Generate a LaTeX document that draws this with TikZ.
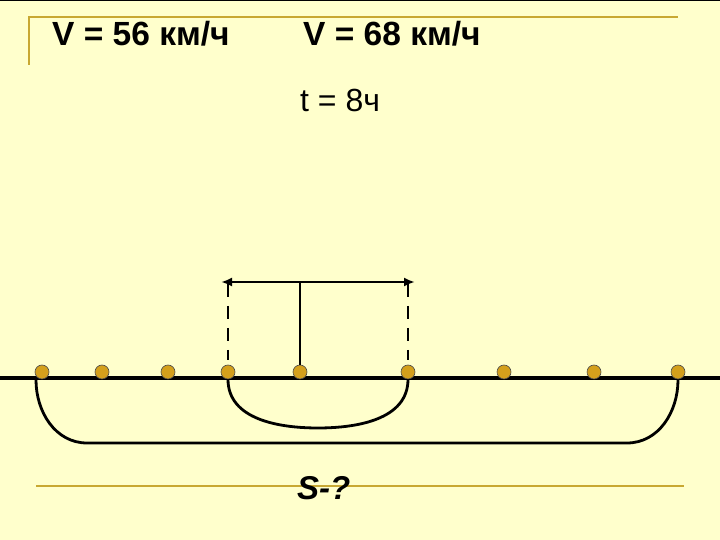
\documentclass[tikz,border=0pt]{standalone}
\usepackage{fontspec}
\setmainfont{Liberation Sans}
\usepackage{tikz}
\usetikzlibrary{shapes,arrows,arrows.meta}
\definecolor{paper}{RGB}{255,255,204}
\definecolor{gold}{RGB}{200,168,50}
\definecolor{dotfill}{RGB}{212,160,28}

\begin{document}
\begin{tikzpicture}[x=1pt,y=1pt,
                every path/.style={>={Latex[length=11pt,width=9pt]}},
                dot/.style={draw=black!70,line width=0.6pt,fill=dotfill,circle,minimum size=14pt,inner sep=0pt},
                lab/.style={font=\fontsize{32}{38}\selectfont,anchor=base west,inner sep=0pt}]
  \useasboundingbox (0,0) rectangle (720,540);
  \fill[paper] (0,0) rectangle (720,540);
  \draw[line width=1.5pt] (0,539.5) -- (720,539.5);
  % frame lines
  \draw[gold,line width=2pt] (29,475) -- (29,523) -- (678,523);
  \draw[gold,line width=2pt] (36,54) -- (684,54);
  % texts
  \node[lab,font=\fontsize{33.5}{40}\selectfont\bfseries] (v1) at (52,494)  {V = 56 км/ч};
  \node[lab,font=\fontsize{33.5}{40}\selectfont\bfseries] (v2) at (303,494) {V = 68 км/ч};
  \node[lab]            (t)  at (300,428) {t = 8ч};
  % road
  \coordinate (w) at (0,162);
  \coordinate (e) at (720,162);
  \draw[line width=3.8pt] (w) -- (e);
  \node[dot] (d1) at (42,168)  {};
  \node[dot] (d2) at (102,168) {};
  \node[dot] (d3) at (168,168) {};
  \node[dot] (d4) at (228,168) {};
  \node[dot] (d5) at (300,168) {};
  \node[dot] (d6) at (408,168) {};
  \node[dot] (d7) at (504,168) {};
  \node[dot] (d8) at (594,168) {};
  \node[dot] (d9) at (678,168) {};
  % arrows
  \coordinate (al) at (221,258);
  \coordinate (ar) at (415,258);
  \coordinate (am) at (300,258);
  \coordinate (dl) at (228,256);
  \coordinate (dr) at (408,256);
  \draw[<->,line width=2.4pt] (al) -- (ar);
  \draw[line width=2.4pt] (am) -- (d5.north);
  \draw[dash pattern=on 13pt off 9pt,line width=1.3pt,shorten >=5pt] (dl) -- (d4.north);
  \draw[dash pattern=on 13pt off 9pt,line width=1.3pt,shorten >=5pt] (dr) -- (d6.north);
  % brackets
  \coordinate (sb) at (318,112);
  \draw[line width=2.8pt] (d4.south) to[out=-90,in=180] (sb) to[out=0,in=-90] (d6.south);
  \coordinate (bl) at (36,160);
  \coordinate (br) at (678,160);
  \coordinate (bll) at (87,97);
  \coordinate (brr) at (627,97);
  \draw[line width=2.8pt] (bl) to[out=-90,in=180] (bll) -- (brr) to[out=0,in=-90] (br);
  \node[lab,font=\fontsize{33}{40}\selectfont\bfseries\itshape] (s) at (297,40) {S-?};
\end{tikzpicture}
\end{document}
